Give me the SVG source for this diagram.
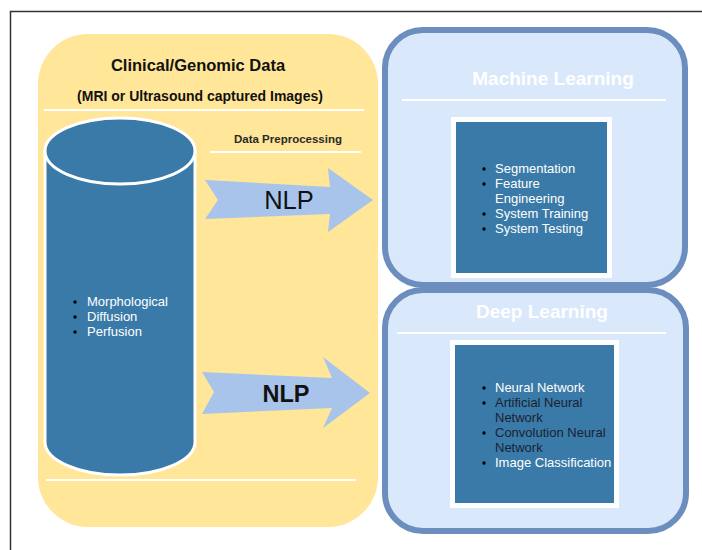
<svg xmlns="http://www.w3.org/2000/svg" width="702" height="550" viewBox="0 0 702 550">
<style>
text{font-family:"Liberation Sans",Arial,sans-serif}
.hl{stroke:#ffffff;stroke-width:2;fill:none}
.blue{fill:#dae8fc;stroke:#6c8ebf;stroke-width:6}
.inner{fill:#3a7aa8;stroke:#ffffff;stroke-width:5}
.arrow{fill:#a9c4eb}
.wt{fill:#ffffff;font-size:13px}
.dk{fill:#1a2230;font-size:13px}
.bul{fill:#000000}
.title{fill:#ffffff;font-size:19px;font-weight:bold}
</style>
<rect width="702" height="550" fill="#ffffff"/>
<path d="M10.5 550 V11.5 H702" fill="none" stroke="#333333" stroke-width="1.5"/>

<g id="clinical">
<rect x="38" y="34" width="340" height="493" rx="50" ry="50" fill="#ffe699"/>
<text x="198" y="71" text-anchor="middle" font-size="16.5" font-weight="bold" fill="#111111">Clinical/Genomic Data</text>
<text x="200" y="101" text-anchor="middle" font-size="14" font-weight="bold" fill="#111111">(MRI or Ultrasound captured Images)</text>
<line class="hl" x1="44" y1="110" x2="364" y2="110"/>
<text x="288" y="143" text-anchor="middle" font-size="11.5" font-weight="bold" fill="#2a2a2a">Data Preprocessing</text>
<line class="hl" x1="210" y1="152" x2="361" y2="152"/>
<line class="hl" x1="46" y1="480" x2="356" y2="480"/>
</g>

<g id="database">
<path d="M45 151 V442 A75 33 0 0 0 195 442 V151" fill="#3a7aa8" stroke="#ffffff" stroke-width="3"/>
<ellipse cx="120" cy="151" rx="75" ry="33" fill="#3a7aa8" stroke="#ffffff" stroke-width="3"/>
<circle class="bul" cx="75" cy="302" r="1.7"/>
<circle class="bul" cx="75" cy="317" r="1.7"/>
<circle class="bul" cx="75" cy="332" r="1.7"/>
<text class="wt" x="87" y="306">Morphological</text>
<text class="wt" x="87" y="321">Diffusion</text>
<text class="wt" x="87" y="336">Perfusion</text>
</g>

<g id="connectors">
<g id="nlp1">
<polygon class="arrow" points="205,180 330,187 328,168 373,200 328,232 330,214 205,219 218,200"/>
<text x="289" y="209" text-anchor="middle" font-size="25.5" fill="#111111">NLP</text>
</g>
<g id="nlp2">
<polygon class="arrow" points="202,372 332,378 323,357 370,393 323,428 332,408 202,414 214,392"/>
<text x="286" y="402" text-anchor="middle" font-size="23.5" font-weight="bold" fill="#111111">NLP</text>
</g>
</g>

<g id="ml">
<rect class="blue" x="385" y="30" width="300" height="255" rx="38" ry="38"/>
<text class="title" x="553" y="85" text-anchor="middle">Machine Learning</text>
<line class="hl" x1="402" y1="100" x2="666" y2="100"/>
<rect class="inner" x="453.5" y="119.5" width="156" height="156"/>
<circle class="bul" cx="484" cy="169" r="1.7"/>
<circle class="bul" cx="484" cy="184" r="1.7"/>
<circle class="bul" cx="484" cy="214" r="1.7"/>
<circle class="bul" cx="484" cy="229" r="1.7"/>
<text class="wt" x="495" y="173">Segmentation</text>
<text class="wt" x="495" y="188">Feature</text>
<text class="wt" x="495" y="203">Engineering</text>
<text class="wt" x="495" y="218">System Training</text>
<text class="wt" x="495" y="233">System Testing</text>
</g>

<g id="dl">
<rect class="blue" x="385" y="290" width="301" height="241" rx="38" ry="38"/>
<text class="title" x="542" y="318" text-anchor="middle">Deep Learning</text>
<line class="hl" x1="397" y1="333" x2="666" y2="333"/>
<rect class="inner" x="452.5" y="342.5" width="164" height="163"/>
<circle class="bul" cx="484" cy="388" r="1.7"/>
<circle class="bul" cx="484" cy="403" r="1.7"/>
<circle class="bul" cx="484" cy="433" r="1.7"/>
<circle class="bul" cx="484" cy="463" r="1.7"/>
<text class="wt" x="495" y="392">Neural Network</text>
<text class="dk" x="495" y="407">Artificial Neural</text>
<text class="dk" x="495" y="422">Network</text>
<text class="dk" x="495" y="437">Convolution Neural</text>
<text class="dk" x="495" y="452">Network</text>
<text class="wt" x="495" y="467">Image Classification</text>
</g>
</svg>
